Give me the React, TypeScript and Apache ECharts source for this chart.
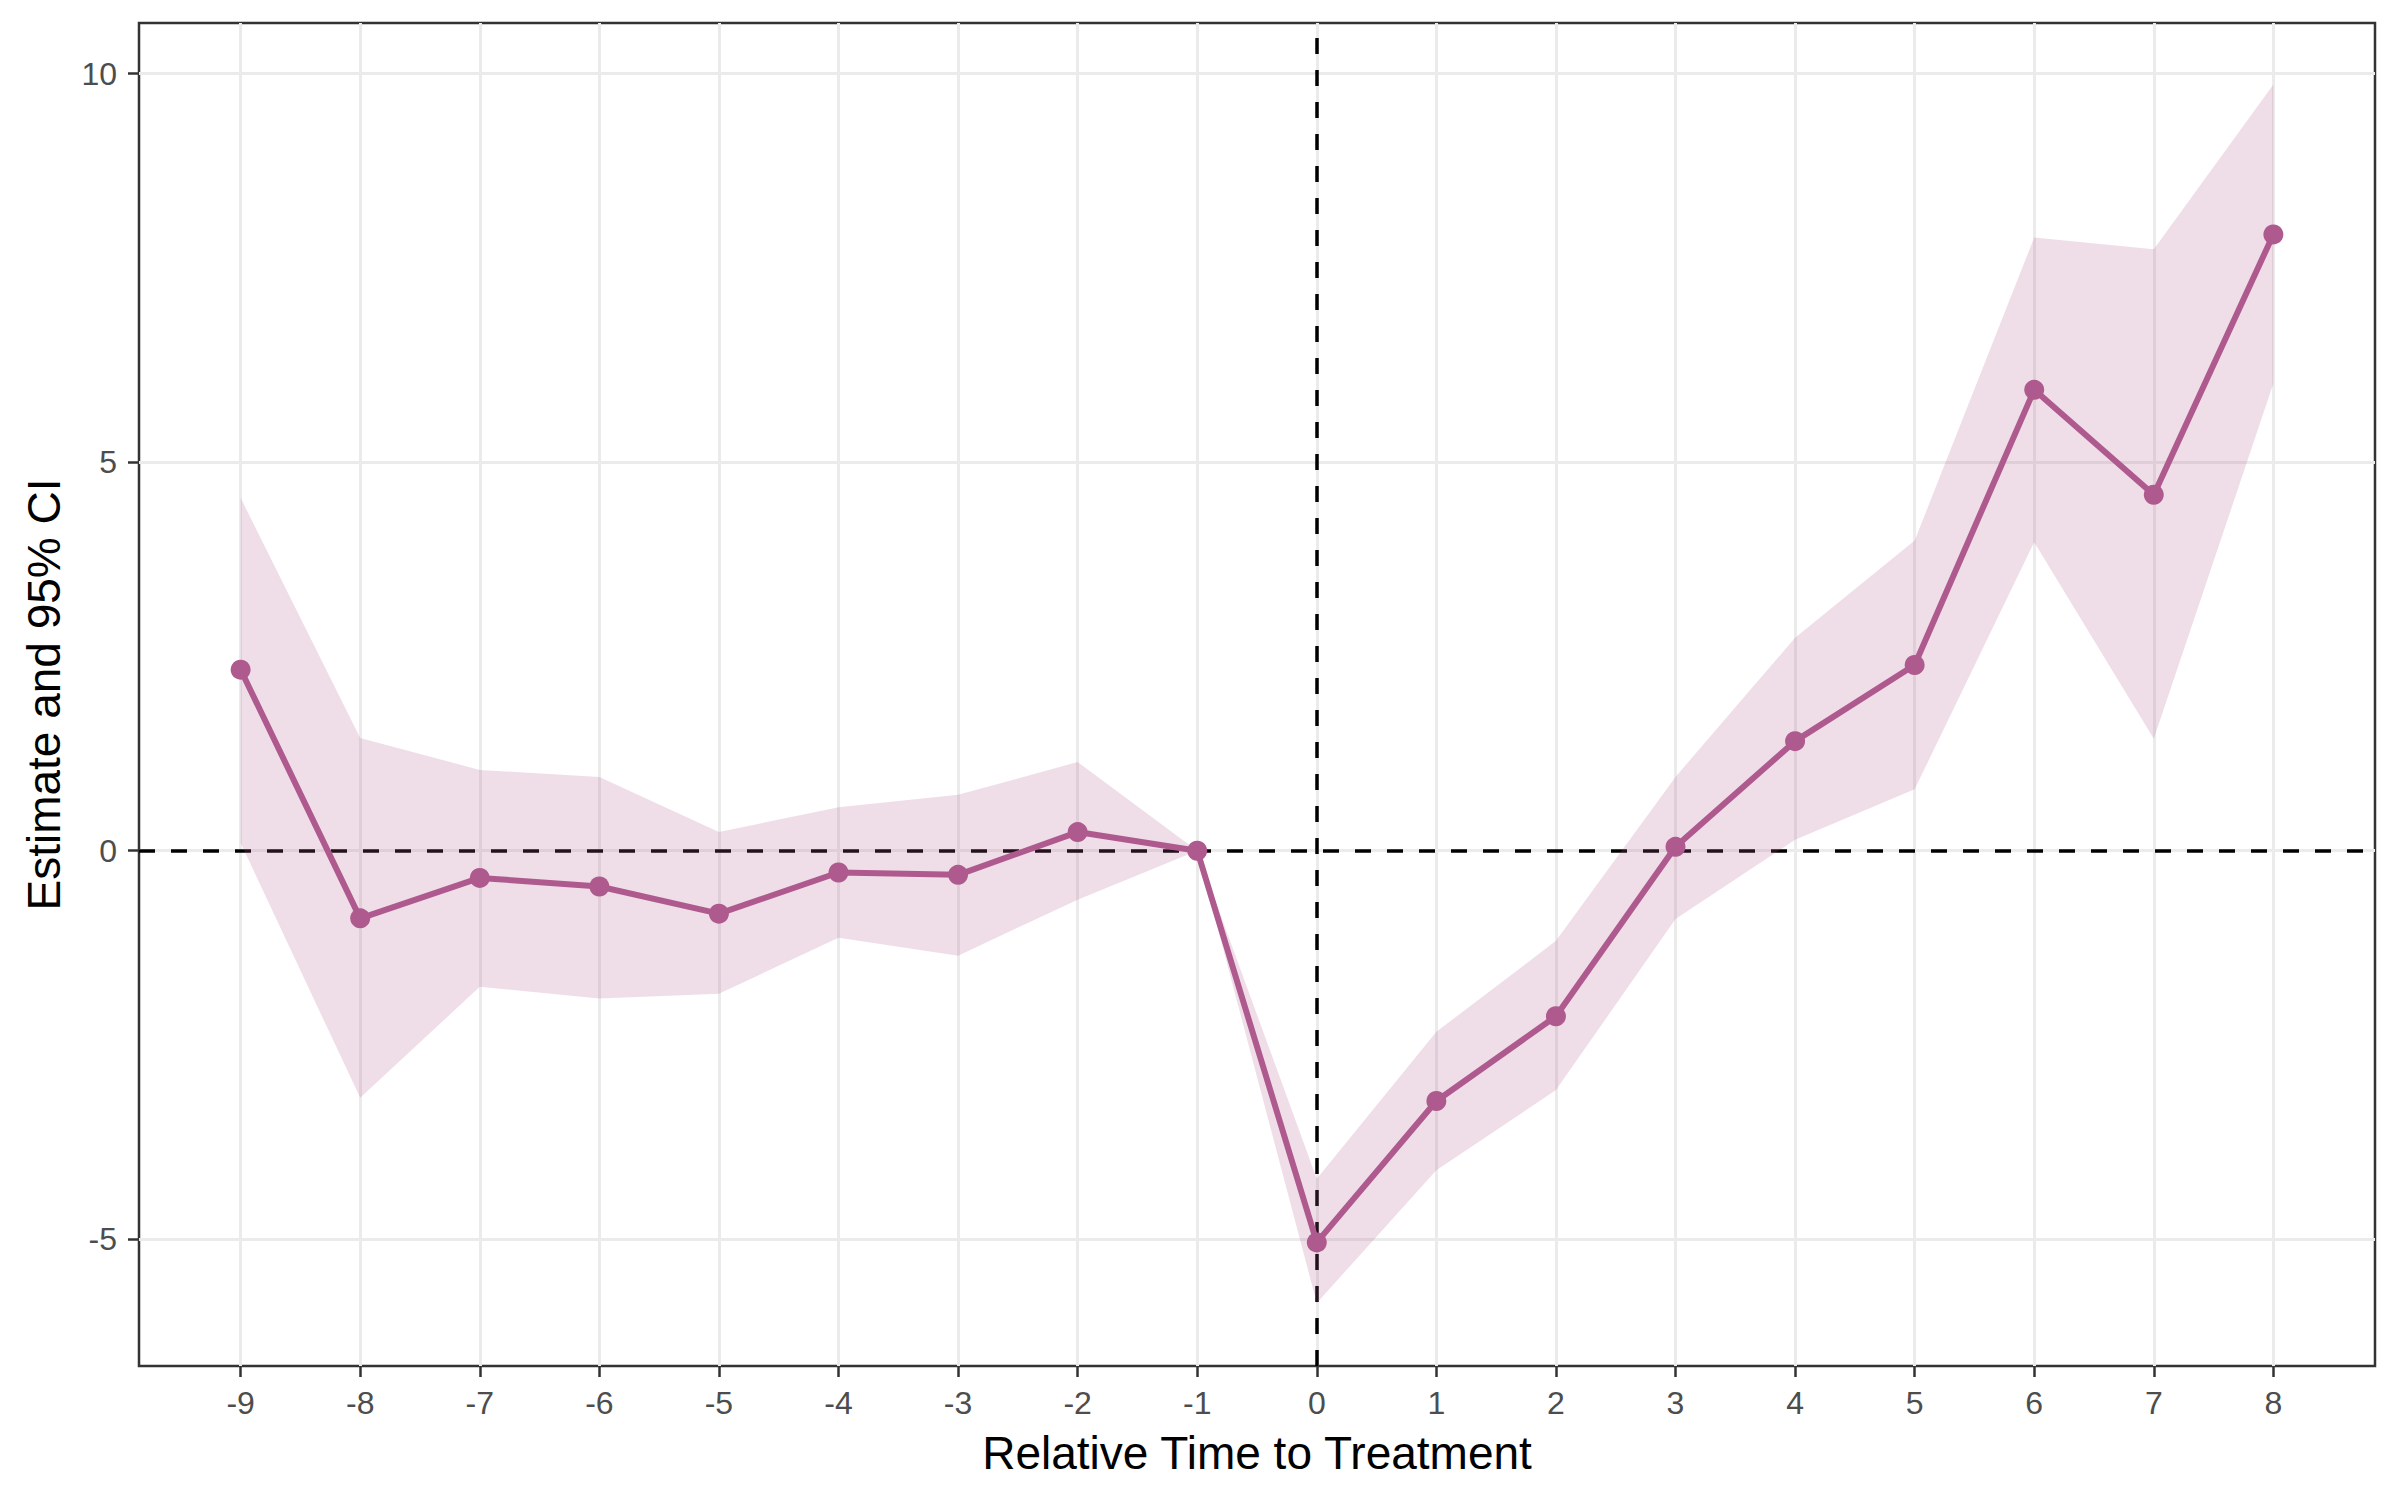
import React, { useEffect, useRef } from "react";
import * as echarts from "echarts";

const relTime = [-9, -8, -7, -6, -5, -4, -3, -2, -1, 0, 1, 2, 3, 4, 5, 6, 7, 8];
const estimate = [2.33, -0.87, -0.35, -0.46, -0.81, -0.28, -0.31, 0.24, 0, -5.04, -3.22, -2.13, 0.05, 1.41, 2.39, 5.93, 4.58, 7.93];
const ciLower = [0.1, -3.18, -1.75, -1.9, -1.84, -1.12, -1.35, -0.63, 0, -5.82, -4.11, -3.08, -0.88, 0.14, 0.79, 3.97, 1.44, 6.01];
const ciUpper = [4.54, 1.45, 1.04, 0.95, 0.24, 0.56, 0.72, 1.14, 0, -4.22, -2.33, -1.16, 0.95, 2.74, 3.99, 7.89, 7.74, 9.86];
const xTicks = [-9, -8, -7, -6, -5, -4, -3, -2, -1, 0, 1, 2, 3, 4, 5, 6, 7, 8];
const yTicks = [-5, 0, 5, 10];
const xTitle = "Relative Time to Treatment";
const yTitle = "Estimate and 95% CI";

export default function App() {
  const ref = useRef<HTMLDivElement>(null);
  useEffect(() => {
    const chart = echarts.init(ref.current as HTMLDivElement, null, { renderer: "svg" });
    const font = '"Liberation Sans", Arial, sans-serif';
    const lineColor = "#AF5A8E";
    const tickStyle = { color: "#333333", width: 2.5 };
    const bandData = relTime.map((x, i) => [x, ciLower[i], ciUpper[i]]);
    chart.setOption({
      animation: false,
      backgroundColor: "#ffffff",
      grid: {
        left: 139,
        right: 25,
        top: 23,
        bottom: 134,
        show: true,
        borderColor: "#333333",
        borderWidth: 2.5,
        backgroundColor: "transparent",
      },
      xAxis: {
        type: "value",
        min: -9.85,
        max: 8.85,
        name: xTitle,
        nameLocation: "middle",
        nameGap: 64,
        nameTextStyle: { fontFamily: font, fontSize: 46, color: "#000000" },
        axisLine: { show: false, onZero: false },
        axisTick: { show: true, length: 11, customValues: xTicks, lineStyle: tickStyle },
        axisLabel: { customValues: xTicks, margin: 21, fontFamily: font, fontSize: 32, color: "#4D4D4D" },
        splitLine: { show: true, lineStyle: { color: "#EBEBEB", width: 3 } },
      },
      yAxis: {
        type: "value",
        min: -6.63,
        max: 10.65,
        name: yTitle,
        nameLocation: "middle",
        nameGap: 72,
        nameTextStyle: { fontFamily: font, fontSize: 46, color: "#000000" },
        axisLine: { show: false, onZero: false },
        axisTick: { show: true, length: 11, customValues: yTicks, lineStyle: tickStyle },
        axisLabel: { customValues: yTicks, margin: 22, fontFamily: font, fontSize: 32, color: "#4D4D4D" },
        splitLine: { show: true, lineStyle: { color: "#EBEBEB", width: 3 } },
      },
      series: [
        {
          name: "refs",
          type: "line",
          data: [],
          silent: true,
          z: 1,
          markLine: {
            silent: true,
            symbol: "none",
            z: 1,
            animation: false,
            label: { show: false },
            lineStyle: { color: "#000000", type: [16, 16], width: 3.5 },
            data: [{ xAxis: 0 }, { yAxis: 0 }],
          },
        },
        {
          name: "band",
          type: "custom",
          data: bandData,
          silent: true,
          z: 2,
          renderItem: (params: any, api: any) => {
            if (params.dataIndex !== 0) return null;
            const upperPts = bandData.map((d) => api.coord([d[0], d[2]]));
            const lowerPts = bandData.map((d) => api.coord([d[0], d[1]])).reverse();
            return {
              type: "polygon",
              shape: { points: upperPts.concat(lowerPts) },
              style: { fill: "rgba(175,90,142,0.2)", stroke: "none" },
            };
          },
        },
        {
          name: "estimate",
          type: "line",
          data: relTime.map((x, i) => [x, estimate[i]]),
          symbol: "circle",
          symbolSize: 20,
          lineStyle: { color: lineColor, width: 6 },
          itemStyle: { color: lineColor },
          z: 3,
        },
      ],
    });
    return () => chart.dispose();
  }, []);
  return (
    <div
      ref={ref}
      style={{ position: "absolute", left: 0, top: 0, width: 2400, height: 1500 }}
    />
  );
}
